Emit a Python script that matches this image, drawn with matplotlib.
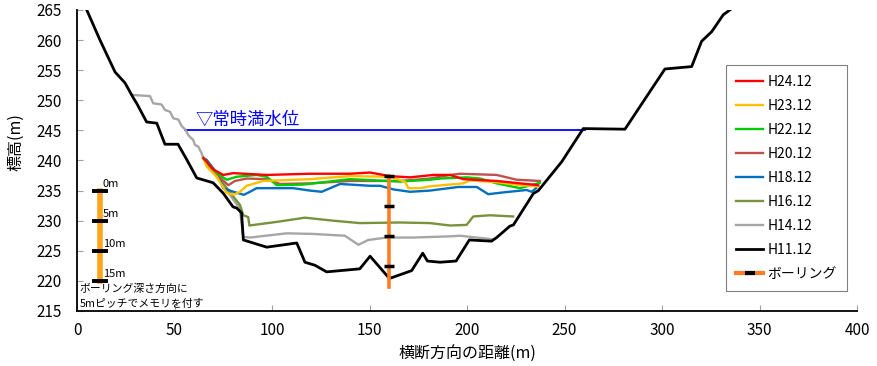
import matplotlib.pyplot as plt
from matplotlib.lines import Line2D

plt.rcParams['font.family'] = ['Noto Sans CJK JP', 'DejaVu Sans']

# =========================
# 1. DATA (distance m, elevation m)
# =========================
h24_x = [64.8, 70, 75, 80.2, 97.3, 119.5, 140, 150.3, 160.5, 170.8, 182.7, 191.3, 198.1, 215.2, 227.2, 236.5]
h24_y = [240.4, 238.5, 237.6, 237.9, 237.6, 237.8, 237.8, 238.0, 237.4, 237.2, 237.6, 237.6, 236.9, 236.6, 236.2, 235.9]

h23_x = [64.8, 66.5, 71.6, 76.8, 80.2, 83.6, 87, 95.5, 119.5, 140, 160.2, 168.2, 169.9, 175.9, 181, 198.1, 201.5, 215.2, 227.2, 236.5]
h23_y = [240.4, 239.0, 237.3, 234.6, 234.3, 234.8, 235.8, 236.6, 236.9, 237.4, 237.3, 236.5, 235.4, 235.4, 235.7, 236.2, 236.7, 236.4, 235.9, 235.7]

h22_x = [64.8, 72, 76.8, 81.9, 92.1, 97.3, 102.4, 116, 140, 165.6, 181, 186.2, 199.8, 206.7, 215.2, 227.2, 237.4]
h22_y = [240.4, 237.8, 236.8, 237.3, 237.6, 237.3, 235.9, 236.0, 236.9, 236.5, 236.8, 237.0, 237.2, 237.0, 236.2, 235.4, 236.3]

h20_x = [64.8, 72, 77.6, 81, 87, 97.3, 104.1, 119.5, 140, 165.6, 181, 191.3, 196.4, 215.2, 225.5, 237.4]
h20_y = [240.4, 237.5, 235.9, 236.6, 237.0, 236.9, 236.1, 236.2, 236.6, 236.6, 237.0, 237.6, 237.8, 237.6, 236.8, 236.6]

h18_x = [64.8, 66.5, 72.5, 75, 80.2, 85.6, 88.7, 92.1, 111, 119.5, 125.5, 134.9, 150.3, 155.4, 162.2, 170.8, 181, 195.5, 205, 210.9, 218.6, 230.6, 233.2, 235.4]
h18_y = [240.4, 240.1, 237.6, 235.4, 234.8, 234.3, 234.8, 235.4, 235.4, 235.0, 234.8, 236.1, 235.8, 235.8, 235.2, 234.8, 235.0, 235.6, 235.6, 234.4, 234.7, 235.1, 234.8, 235.4]

h16_x = [64.8, 83.6, 85.3, 87.8, 88.4, 102.4, 116.9, 131.4, 145.1, 165.6, 181, 191.3, 199.8, 203.2, 211.8, 223.7]
h16_y = [240.4, 232.6, 230.9, 230.6, 229.2, 229.8, 230.5, 230.0, 229.6, 229.7, 229.6, 229.2, 229.3, 230.7, 230.9, 230.7]

h14_x = [28, 37.4, 39.1, 43.4, 45.1, 47.7, 49.4, 52, 53.7, 55.4, 57.1, 59.6, 60.5, 62.2, 63.9, 64.8,
         83.5, 85.3, 88.7, 107.5, 121.2, 137.4, 144.3, 149.4, 158.8, 172.5, 191.3, 196.4, 213.5]
h14_y = [250.9, 250.7, 249.5, 249.3, 248.4, 248.1, 247.0, 246.8, 245.7, 245.2, 244.2, 243.4, 242.6, 242.3, 241.2, 240.4,
         232.0, 227.3, 227.2, 227.9, 227.8, 227.5, 226.0, 226.8, 227.2, 227.2, 227.4, 227.5, 226.9]

h11_x = [5, 11.8, 19.5, 24.6, 28.7, 30.6, 35.7, 40.9, 45.1, 51.8, 56.2, 61.4, 69.8, 74.9, 80, 81.9, 84.4, 85.3,
         97.3, 112.7, 116.9, 122, 128, 145, 150.3, 160.2, 171.6, 177.3, 179.7, 186.2, 194.4, 201.2, 212.6, 215.2,
         222, 223.8, 234, 236.6, 248.6, 259.6, 281, 301.5, 315.2, 320.3, 325.5, 331.4, 335.2]
h11_y = [265, 260, 254.7, 252.9, 250.5, 249.5, 246.4, 246.2, 242.7, 242.7, 240.2, 237.1, 236.3, 234.6, 232.3, 232.1, 231.3, 226.8,
         225.6, 226.3, 223.1, 222.6, 221.5, 222.0, 224.1, 220.4, 221.7, 224.6, 223.3, 223.1, 223.3, 226.8, 226.6, 227.2,
         229.1, 229.3, 234.5, 235.0, 239.8, 245.3, 245.2, 255.2, 255.6, 259.8, 261.4, 264.2, 265.1]

labels = ["H24.12", "H23.12", "H22.12", "H20.12", "H18.12", "H16.12", "H14.12", "H11.12"]
colors = ["#FF0000", "#FFC000", "#00CC00", "#C0504D", "#0070C0", "#77933C", "#A6A6A6", "#000000"]
series_x = [h24_x, h23_x, h22_x, h20_x, h18_x, h16_x, h14_x, h11_x]
series_y = [h24_y, h23_y, h22_y, h20_y, h18_y, h16_y, h14_y, h11_y]

# normal water level
water_level = 245.0
water_x = [55.4, 260.5]

# boring
boring_x = 160
boring_top = 237.4
boring_bottom = 219.0
boring_marks = [0, 5, 10, 15]

# scale bar for boring depth
scale_x = 12
scale_top = 235
scale_marks = [0, 5, 10, 15]

# =========================
# 2. PLOT
# =========================
fig = plt.figure(figsize=(8.77, 3.66), dpi=100)
ax = fig.add_axes([0.0878, 0.1503, 0.8894, 0.8224])

handles = []
for i in range(len(labels)):
    lw = 2.0 if labels[i] == "H11.12" else 1.7
    z = 5 if labels[i] == "H11.12" else 3 + (len(labels) - i) * 0.1
    line, = ax.plot(series_x[i], series_y[i], color=colors[i], lw=lw, zorder=z, label=labels[i])
    handles.append(line)

ax.plot(water_x, [water_level, water_level], color="#0000FF", lw=1.3, zorder=2)
ax.text(61, water_level + 0.3, "▽常時満水位", color="#0000FF", fontsize=12.5, va="bottom", ha="left")

# boring
ax.plot([boring_x, boring_x], [boring_top, boring_bottom], color="#FF7C24", lw=2.6, zorder=6)
ax.plot([boring_x] * len(boring_marks), [boring_top - d for d in boring_marks],
        ls="none", marker="_", ms=6.5, mew=2.5, color="black", zorder=7)

# scale bar
ax.plot([scale_x, scale_x], [scale_top, scale_top - scale_marks[-1]], color="#FFA31A", lw=4, zorder=6)
ax.plot([scale_x] * len(scale_marks), [scale_top - d for d in scale_marks],
        ls="none", marker="_", ms=11, mew=2.8, color="black", zorder=7)
for d in scale_marks:
    ax.text(scale_x + 1.2, scale_top - d + 0.3, f"{d}m", fontsize=8, va="bottom", ha="left")
ax.text(1.2, 215.3, "ボーリング深さ方向に\n5mピッチでメモリを付す", fontsize=7.8, va="bottom", ha="left",
        linespacing=1.6, zorder=8)

# legend
boring_handle = (Line2D([], [], color="#FF7C24", lw=3),
                 Line2D([], [], color="black", marker="_", ms=7, mew=3, ls="none"))
leg = ax.legend(handles + [boring_handle], labels + ["ボーリング"],
                loc="upper left", bbox_to_anchor=(0.832, 0.817), borderaxespad=0, fontsize=10,
                frameon=True, fancybox=False, edgecolor="#808080", framealpha=1,
                handlelength=2.0, labelspacing=0.72, borderpad=0.7, handletextpad=0.3)
leg.get_frame().set_linewidth(0.8)

# axes
ax.set_xlim(0, 400)
ax.set_ylim(215, 265)
ax.set_xticks(range(0, 401, 50))
ax.set_yticks(range(215, 266, 5))
ax.tick_params(direction="in", length=4, color="#A0A0A0", labelsize=11)
ax.tick_params(axis="x", pad=8)
ax.tick_params(axis="y", pad=11)
ax.spines["top"].set_visible(False)
ax.spines["right"].set_visible(False)
ax.spines["left"].set_linewidth(1.3)
ax.spines["bottom"].set_linewidth(1.3)
ax.set_xlabel("横断方向の距離(m)", fontsize=11.5, labelpad=4)
ax.set_ylabel("標高(m)", fontsize=11.5)
ax.yaxis.set_label_coords(-0.068, 0.56)

fig.savefig("out.png", dpi=100)
